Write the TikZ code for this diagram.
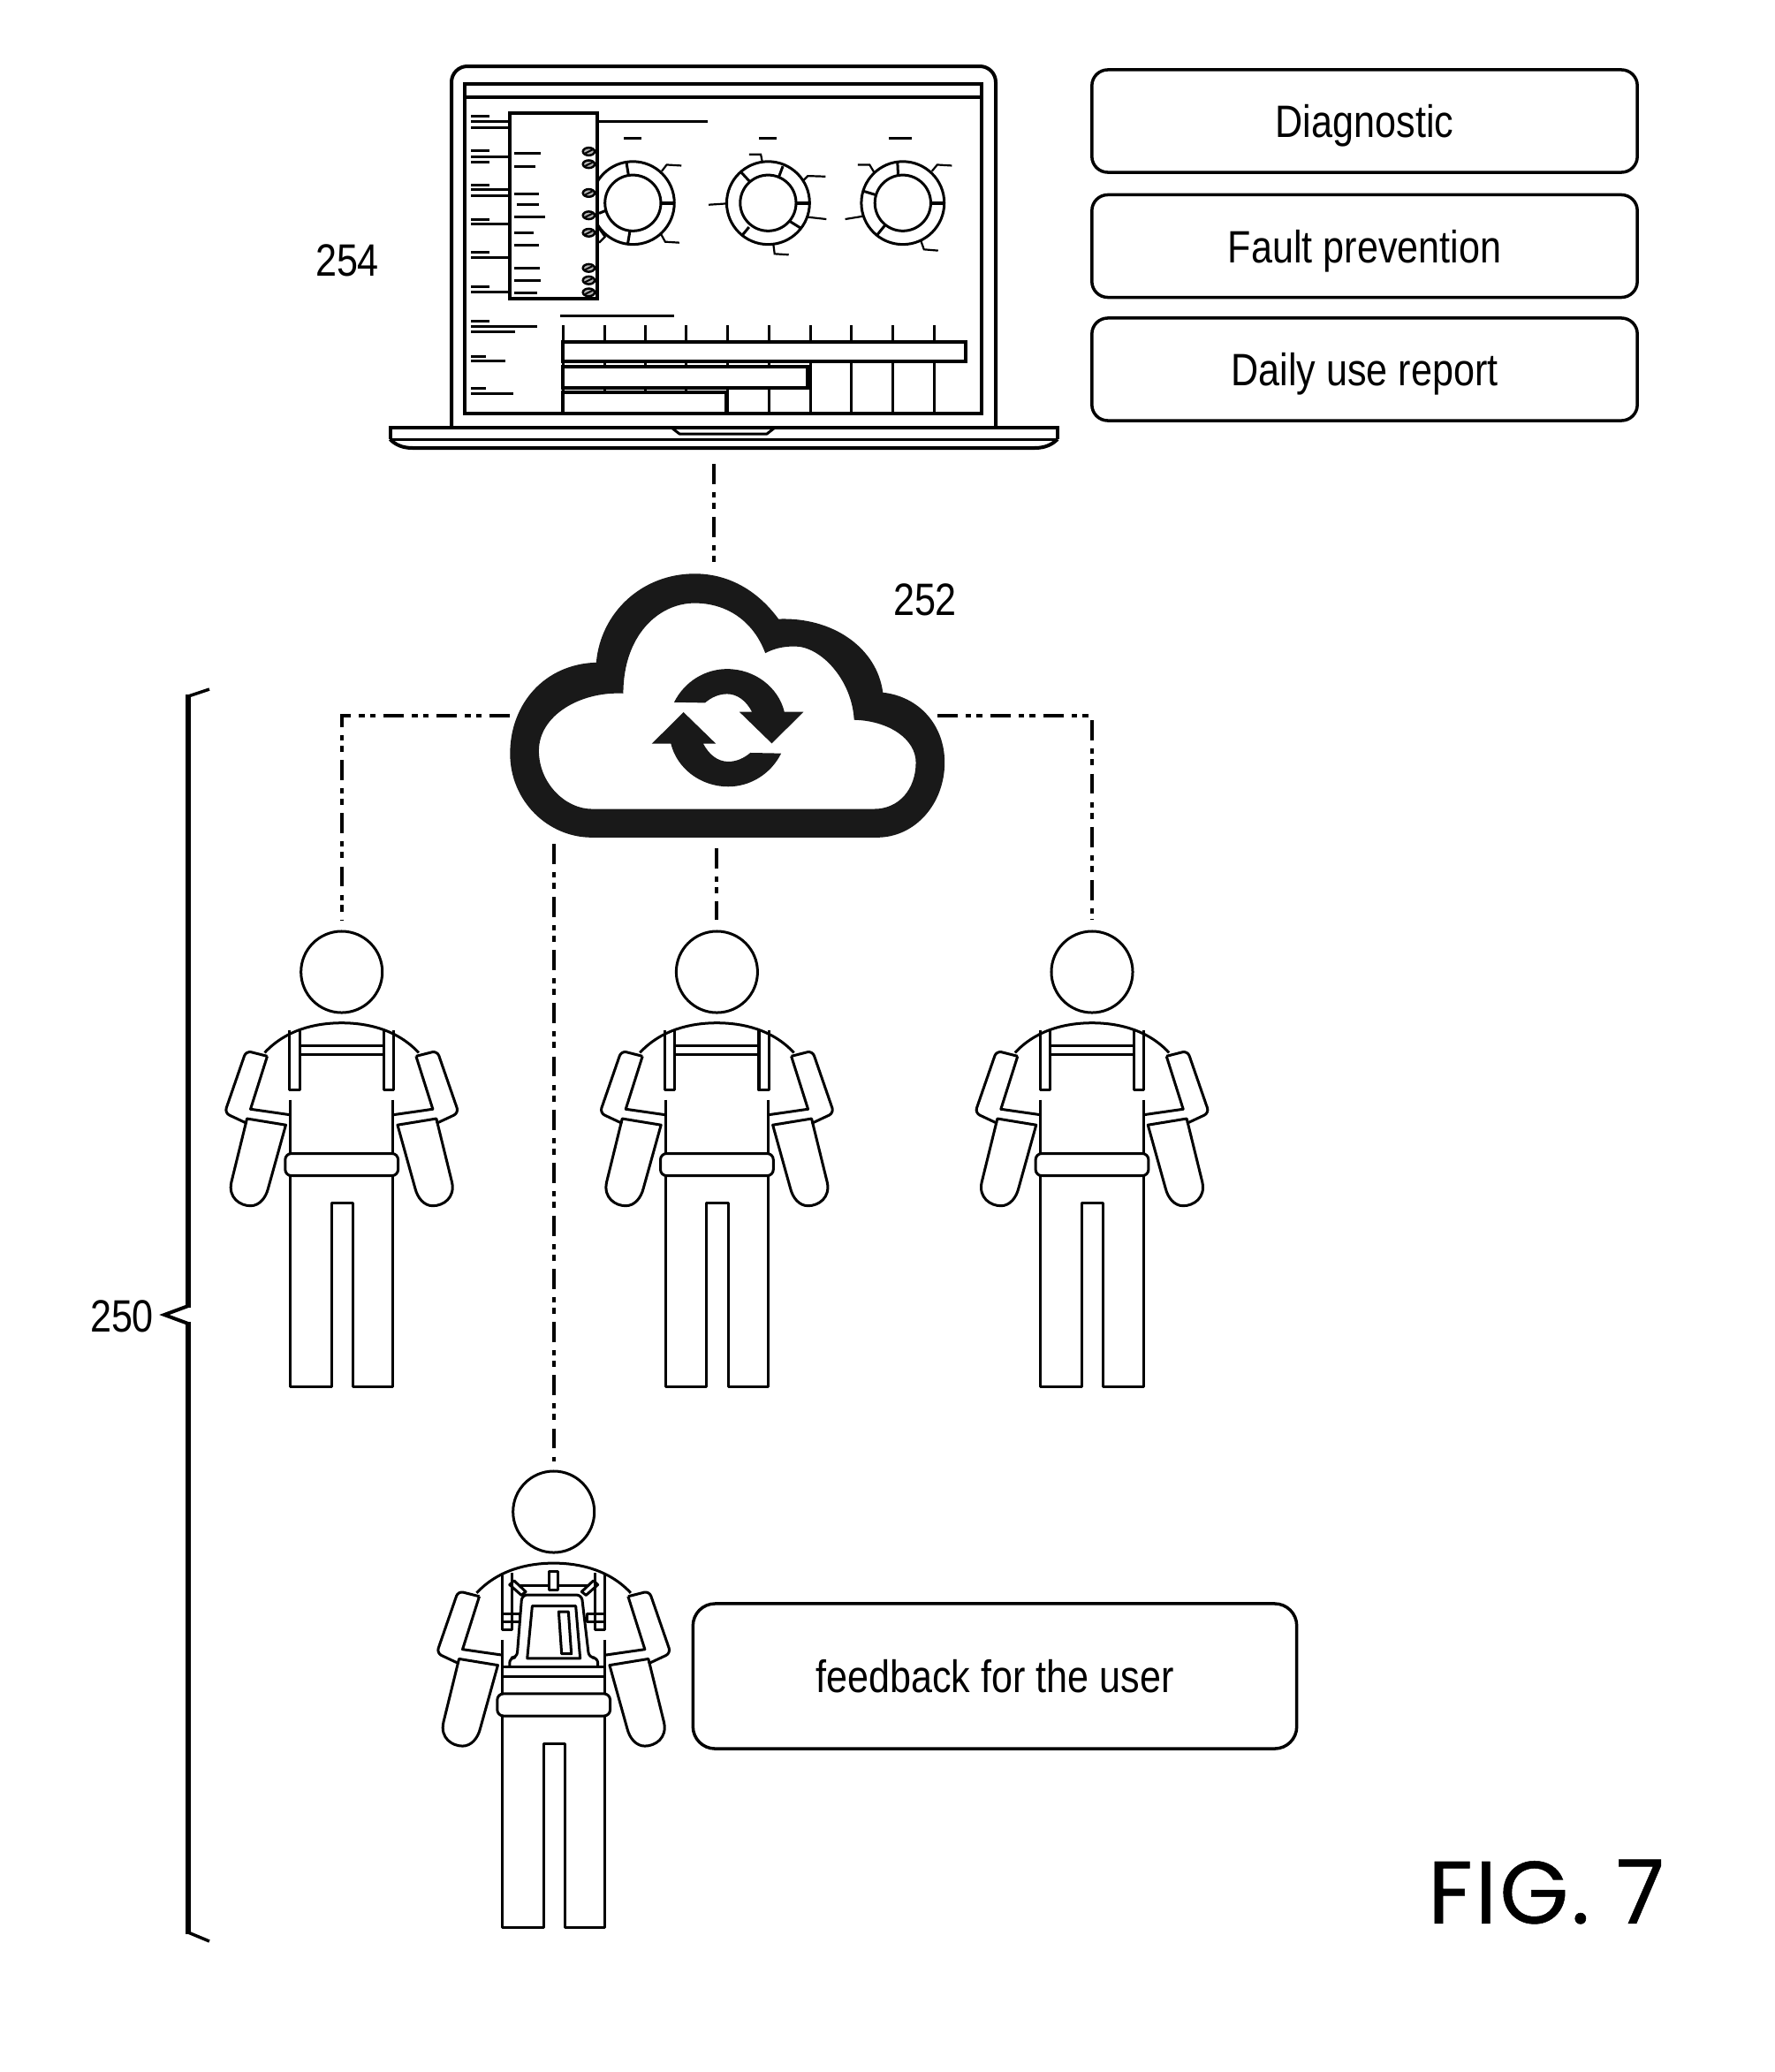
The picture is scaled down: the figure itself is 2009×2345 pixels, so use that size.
\documentclass[tikz,border=0pt]{standalone}
\usepackage{fontspec}
\usetikzlibrary{calc}
\setmainfont{Liberation Sans}
\newfontfamily\lblfont[FakeStretch=0.84]{Liberation Sans}
\newfontfamily\figfont[LetterSpace=3,FakeBold=0.5]{Poppins}
\tikzset{
  x=0.01cm,y=-0.01cm,
  outline/.style={line width=0.03cm,line join=round},
  heavy/.style={line width=0.04cm,line join=miter},
  textbar/.style={line width=0.03cm},
  tinybar/.style={line width=0.022cm},
  link/.style={line width=0.04cm,dash pattern=on 6.5pt off 2.6pt on 1.7pt off 1.7pt on 2pt off 2.6pt},
  infobox/.style={draw,line width=0.035cm,rounded corners=0.18cm,inner sep=0,minimum width=6.17cm,minimum height=1.16cm,
    text height=0.40cm,text depth=0.03cm,font=\lblfont\fontsize{14.6}{17}\selectfont},
  headcircle/.style={circle,draw,outline,inner sep=0,minimum size=0.92cm},
  reflabel/.style={font=\lblfont\fontsize{14.6}{17}\selectfont,inner sep=0},
  % body outline, laid out on a grid of 1/3 px across and 1/2.786 px down
  body/.pic={
    \begin{scope}[x=0.003333cm,y=-0.003589cm]
      \draw[outline] (-262,422) .. controls (-190,350) and (-90,328) .. (0,328)
                     .. controls (90,328) and (190,350) .. (262,422);
      \foreach \s in {1,-1}{
        \begin{scope}[xscale=\s]
          \draw[outline,rounded corners=0.06cm] (-253,433) -- (-325,416) -- (-398,612) -- (-322,645);
          \draw[outline] (-253,433) -- (-310,600) -- (-175,618);
          \draw[outline] (-190,650) -- (-322,630) -- (-375,830)
             .. controls (-387,880) and (-345,905) .. (-310,905)
             .. controls (-280,905) and (-258,880) .. (-250,850) -- cycle;
          \draw[outline] (-175,570) -- (-175,740);
        \end{scope}
      }
      \draw[outline] (-175,810) -- (-175,1477) -- (-35,1477) -- (-35,897) -- (38,897) -- (38,1477) -- (175,1477) -- (175,810);
      \draw[outline,rounded corners=0.07cm] (-192,740) rectangle (192,810);
    \end{scope}
  },
  plainstraps/.pic={
    \begin{scope}[x=0.003333cm,y=-0.003589cm]
      \foreach \s in {1,-1}{
        \begin{scope}[xscale=\s]
          \draw[outline] (-177,352) -- (-177,540) -- (-143,540) -- (-143,348);
        \end{scope}
      }
      \draw[outline] (-143,400) -- (143,400) (-143,428) -- (143,428);
    \end{scope}
  },
  backpack/.pic={
    \begin{scope}[x=0.003333cm,y=-0.003589cm]
      \foreach \s in {1,-1}{
        \begin{scope}[xscale=\s]
          \draw[outline] (-175,362) -- (-175,541) -- (-142,541) -- (-142,362);
          \draw[outline] (-175,517) -- (-115,517) -- (-115,493) -- (-175,493);
          \draw[outline] (-150,400) -- (-135,387) -- (-95,422) -- (-110,433) -- cycle;
        \end{scope}
      }
      \draw[outline] (-15,357) rectangle (15,418);
      \draw[outline] (-115,402) -- (-15,402) (15,402) -- (115,402);
      \draw[outline,rounded corners=0.06cm] (-150,660) -- (-150,630) -- (-125,630) -- (-108,432) -- (95,432) -- (120,630) -- (150,630) -- (150,660);
      \draw[outline] (-175,660) -- (175,660);
      \draw[outline] (-73,467) -- (75,467) -- (90,632) -- (-90,632) -- cycle;
      \draw[outline] (17,485) -- (50,485) -- (60,618) -- (27,618) -- cycle;
      \draw[outline] (-175,690) -- (175,690);
    \end{scope}
  },
}
\begin{document}
\begin{tikzpicture}
\useasboundingbox (0,0) rectangle (2009,2345);

% ---- laptop casing ----
\draw[heavy,rounded corners=0.18cm] (511,484) -- (511,75) -- (1127,75) -- (1127,484);
\draw[heavy] (525.7,95) rectangle (1111,468);
\draw[heavy] (525.7,110) -- (1111,110);
\draw[heavy] (441.5,497) -- (441.5,484) -- (1197,484) -- (1197,497);
\draw[outline] (441.5,497) -- (1197,497);
\draw[heavy] (441.5,497) .. controls (447,503) and (455,507) .. (467,507) -- (1171,507) .. controls (1183,507) and (1191,503) .. (1197,497);
\draw[outline] (760,484) -- (769,491) -- (868,491) -- (877,484);
\coordinate (laptopfoot) at (808,525);

% ---- dashboard on the screen, on a 1/3 px grid ----
\begin{scope}[shift={(500,60)},x=0.003333cm,y=-0.003333cm]
  % gauges
  \foreach \c in {650,1110,1568}{
    \draw[outline] (\c,510) circle [radius=141];
    \draw[outline] (\c,510) circle [radius=95];
    \draw[heavy] (\c+95,510) -- (\c+141,510);
  }
  \draw[outline] (628,372) -- (635,415) (640,605) -- (632,652) (535,545) -- (560,535);
  \draw[outline] (1015,402) -- (1050,440) (1160,385) -- (1145,425) (1180,570) -- (1220,595) (1045,592) -- (1020,622);
  \draw[outline] (1550,372) -- (1552,415) (1435,470) -- (1478,483) (1508,585) -- (1478,622);
  % gauge leaders
  \draw[tinybar] (748,402) -- (765,380) -- (815,383) (745,615) -- (760,642) -- (808,645) (530,590) -- (555,625) -- (535,645);
  \draw[tinybar] (1090,370) -- (1085,345) -- (1045,345) (1228,435) -- (1245,418) -- (1305,420) (968,512) -- (908,516) (1245,558) -- (1308,565) (1128,652) -- (1132,683) -- (1180,686);
  \draw[tinybar] (1470,405) -- (1455,380) -- (1415,380) (1667,402) -- (1685,380) -- (1735,383) (1433,555) -- (1372,565) (1630,640) -- (1640,668) -- (1688,672);
  % side panel
  \draw[heavy,fill=white] (231,205) rectangle (530,835);
  \draw[textbar] (530,232) -- (905,232);
  \foreach \a/\b in {620/680,1080/1140,1520/1600}
    \draw[textbar] (\a,290) -- (\b,290);
  \foreach \y/\a/\b in {340/247/338,385/247/318,478/247/332,516/255/332,558/247/353,612/247/313,654/247/332,733/247/335,774/247/338,816/247/323}
    \draw[textbar] (\a,\y) -- (\b,\y);
  \foreach \y in {335,378,476,552,611,731,773,814}{
    \draw[line width=0.025cm,fill=black!30] (500,\y) circle [x radius=20,y radius=13];
    \draw[line width=0.02cm] (488,\y+6) -- (512,\y-6);
  }
  % labels left of the panel
  \foreach \y/\b in {215/163,233/230,253/230,333/163,352/230,370/163,450/163,465/230,485/230,565/163,582/230,678/163,697/230,795/163,814/230,
                     911/163,930/325,948/248,1033/150,1048/215,1140/150,1158/243}
    \draw[textbar] (100,\y) -- (\b,\y);
  % bar chart
  \draw[textbar] (403,893) -- (790,893);
  \foreach \x in {412,553,692,832,973,1113,1255,1393,1534,1675}
    \draw[outline] (\x,925) -- (\x,1225);
  \draw[heavy,fill=white] (412,983) rectangle (1781,1050);
  \draw[heavy,fill=white] (412,1068) rectangle (1243,1138);
  \draw[heavy,fill=white] (412,1155) rectangle (968,1225);
  \draw[heavy] (77,1225) -- (1833,1225);
\end{scope}

% ---- outcome boxes ----
\node[infobox] (diag) at (1544.5,137) {Diagnostic};
\node[infobox] (fault) at (1544.5,278.5) {Fault prevention};
\node[infobox] (daily) at (1544.5,418) {Daily use report};
\node[infobox,rounded corners=0.25cm,minimum width=6.83cm,minimum height=1.64cm] (feedback) at (1126,1897) {feedback for the user};

% ---- cloud ring and sync arrows ----
\begin{scope}[shift={(560,630)},x=0.003333cm,y=-0.003333cm]
  \fill[even odd rule,black!90]
    (330,955) -- (1300,955) .. controls (1430,955) and (1530,840) .. (1530,700)
    .. controls (1530,570) and (1440,475) .. (1320,462)
    .. controls (1300,310) and (1150,205) .. (965,212)
    .. controls (890,110) and (790,58) .. (680,58)
    .. controls (500,58) and (360,190) .. (345,360)
    .. controls (170,365) and (52,500) .. (52,670)
    .. controls (52,830) and (180,955) .. (330,955) -- cycle
    (330,858) -- (1290,858) .. controls (1375,858) and (1432,790) .. (1432,700)
    .. controls (1432,620) and (1340,558) .. (1222,555)
    .. controls (1215,420) and (1110,305) .. (1020,305)
    .. controls (975,305) and (945,315) .. (920,328)
    .. controls (880,220) and (790,158) .. (680,158)
    .. controls (555,158) and (437,270) .. (437,465)
    .. controls (290,458) and (150,540) .. (150,660)
    .. controls (150,770) and (240,858) .. (330,858) -- cycle;
  \foreach \r in {0,180}{
    \fill[black!90,rotate around={\r:(792,582)}]
      (610,495) .. controls (645,425) and (715,382) .. (790,382)
      .. controls (885,382) and (965,445) .. (985,528)
      -- (1050,528) -- (942,635) -- (832,528) -- (875,528)
      .. controls (855,490) and (825,467) .. (790,467)
      .. controls (760,467) and (735,480) .. (715,497) -- cycle;
  }
\end{scope}
\coordinate (cloudtop) at (808,643);
\coordinate (cloudleft) at (577,810);
\coordinate (cloudright) at (1061,810);
\coordinate (cloudbase) at (811.4,960);
\coordinate (cloudlow) at (626.7,955);

% ---- wearers ----
\node[headcircle] (head1) at (386.7,1100) {};
\node[headcircle] (head2) at (811.4,1100) {};
\node[headcircle] (head3) at (1236,1100) {};
\node[headcircle] (head4) at (626.7,1711) {};
\pic at (386.7,1040) {body};
\pic at (386.7,1040) {plainstraps};
\pic at (811.4,1040) {body};
\pic at (811.4,1040) {plainstraps};
\pic at (1236,1040) {body};
\pic at (1236,1040) {plainstraps};
\pic at (626.7,1651.4) {body};
\pic at (626.7,1650) {backpack};

% ---- network links ----
\draw[link,shorten >=0.11cm] (cloudleft) -| (head1.north);
\draw[link,shorten >=0.11cm] (cloudright) -| (head3.north);
\draw[link,shorten >=0.11cm] (cloudbase) -- (head2.north);
\draw[link,shorten >=0.05cm] (cloudlow) -- (head4.north);
\draw[link] (laptopfoot) -- (cloudtop);

% ---- group brace ----
\draw[line width=0.065cm,line cap=butt] (213,786) -- (213,1480) (213,1496) -- (213,2189);
\draw[line width=0.035cm] (237,780) -- (213,788);
\draw[line width=0.04cm,line join=miter] (213,1478) -- (186,1488) -- (213,1498);
\draw[line width=0.035cm] (213,2187) -- (237,2197);

% ---- reference numerals and figure caption ----
\node[reflabel] (ref254) at (393,295) {254};
\node[reflabel] (ref252) at (1047,679) {252};
\node[reflabel] (ref250) at (138,1490) {250};
\node[inner sep=0,font=\figfont\fontsize{28.5}{32}\selectfont] (figcap) at (1750,2141) {FIG. 7};
\end{tikzpicture}
\end{document}
